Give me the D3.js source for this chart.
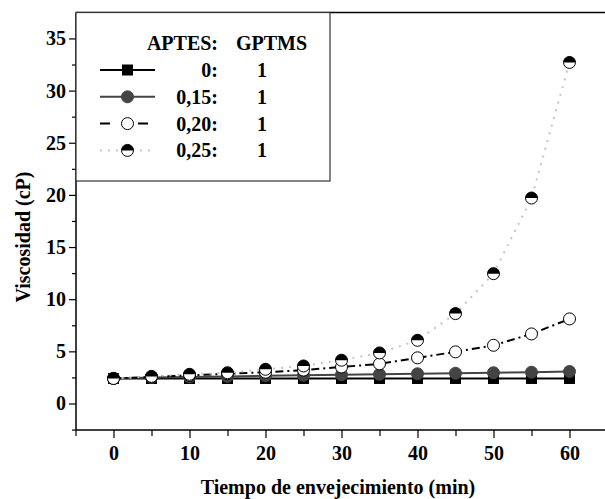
<!DOCTYPE html>
<html>
<head>
<meta charset="utf-8">
<script src="https://cdn.jsdelivr.net/npm/d3@7"></script>
<style>
  body { margin: 0; background: #fff; }
  text { font-family: "Liberation Serif", "Times New Roman", serif; font-weight: bold; }
</style>
</head>
<body>
<div id="chart"></div>
<script>
// Tiempo (min) y viscosidad (cP) para cada relación APTES:GPTMS
const tiempo = [0, 5, 10, 15, 20, 25, 30, 35, 40, 45, 50, 55, 60];
const visc000 = [2.4, 2.4, 2.4, 2.4, 2.4, 2.4, 2.4, 2.4, 2.4, 2.4, 2.4, 2.4, 2.4];
const visc015 = [2.4, 2.5, 2.55, 2.6, 2.65, 2.7, 2.75, 2.8, 2.85, 2.9, 2.95, 3.0, 3.07];
const visc020 = [2.4, 2.55, 2.7, 2.85, 3.0, 3.2, 3.5, 3.8, 4.38, 4.95, 5.58, 6.67, 8.11];
const visc025 = [2.4, 2.6, 2.8, 2.95, 3.28, 3.6, 4.15, 4.85, 6.06, 8.62, 12.45, 19.7, 32.7];
const aptes = ["0:", "0,15:", "0,20:", "0,25:"];
const gptms = ["1", "1", "1", "1"];
const yTicks = [0, 5, 10, 15, 20, 25, 30, 35];
const yMinor = [-2.5, 2.5, 7.5, 12.5, 17.5, 22.5, 27.5, 32.5];
const xTicks = [0, 10, 20, 30, 40, 50, 60];
const xMinor = [-5, 5, 15, 25, 35, 45, 55, 65];

const width = 605, height = 499;
const mLeft = 76, mTop = 12.5, mBottom = 430;

const svg = d3.select("#chart")
    .append("svg")
    .attr("width", width)
    .attr("height", height);

// 0 min -> 113.5 px, 60 min -> 569.5 px
const x = d3.scaleLinear().domain([-5, 70]).range([113.5 - 5 * 7.6, 113.5 + 70 * 7.6]);
// 0 cP -> 403.5 px, 10.43 px por unidad
const y = d3.scaleLinear().domain([0, 35]).range([403.5, 403.5 - 35 * 10.43]);

// marco superior
svg.append("line")
    .attr("x1", mLeft).attr("x2", width)
    .attr("y1", mTop).attr("y2", mTop)
    .attr("stroke", "#000").attr("stroke-width", 1.5);

// eje Y
const yAxis = svg.append("g")
    .attr("transform", `translate(${mLeft},0)`)
    .call(d3.axisLeft(y).tickValues(yTicks).tickSize(7).tickPadding(3));
svg.append("g")
    .attr("transform", `translate(${mLeft},0)`)
    .call(d3.axisLeft(y).tickValues(yMinor).tickSize(4).tickFormat(""))
    .select(".domain").remove();

// eje X
const xAxis = svg.append("g")
    .attr("transform", `translate(0,${mBottom})`)
    .call(d3.axisBottom(x).tickValues(xTicks).tickSize(8).tickPadding(8));
svg.append("g")
    .attr("transform", `translate(0,${mBottom})`)
    .call(d3.axisBottom(x).tickValues(xMinor).tickSize(6).tickFormat(""))
    .select(".domain").remove();

yAxis.select(".domain").attr("d", `M0,${mTop}V${mBottom}`).attr("stroke-width", 1.5);
xAxis.select(".domain").attr("d", `M${mLeft},0H${width}`).attr("stroke-width", 1.5);
svg.selectAll(".tick line").attr("stroke-width", 1.2);
svg.selectAll(".tick text")
    .attr("font-size", 20)
    .attr("font-family", "Liberation Serif")
    .attr("font-weight", "bold")
    .attr("fill", "#000");

// títulos de los ejes
svg.append("text")
    .attr("x", 338).attr("y", 494)
    .attr("text-anchor", "middle")
    .attr("font-size", 20)
    .text("Tiempo de envejecimiento (min)");
svg.append("text")
    .attr("transform", "translate(30,237) rotate(-90)")
    .attr("text-anchor", "middle")
    .attr("font-size", 20)
    .text("Viscosidad (cP)");

// series
const series = [
    { vals: visc000, stroke: "#000", dash: null, mark: "square" },
    { vals: visc015, stroke: "#444", dash: null, mark: "circle" },
    { vals: visc020, stroke: "#000", dash: "8,4,2,4", mark: "open" },
    { vals: visc025, stroke: "#c4c4c4", dash: "2,6", mark: "half" }
];

const line = d3.line()
    .x((d, i) => x(tiempo[i]))
    .y(d => y(d));

series.forEach(s => {
    svg.append("path")
        .datum(s.vals)
        .attr("d", line)
        .attr("fill", "none")
        .attr("stroke", s.stroke)
        .attr("stroke-width", 2)
        .attr("stroke-dasharray", s.dash);
});

const r = 6;
function drawMark(g, mark, cx, cy) {
    if (mark === "square") {
        g.append("rect")
            .attr("x", cx - 5.5).attr("y", cy - 5.5)
            .attr("width", 11).attr("height", 11)
            .attr("fill", "#000");
    } else if (mark === "circle") {
        g.append("circle")
            .attr("cx", cx).attr("cy", cy).attr("r", r)
            .attr("fill", "#444").attr("stroke", "#444");
    } else if (mark === "open") {
        g.append("circle")
            .attr("cx", cx).attr("cy", cy).attr("r", r)
            .attr("fill", "#fff").attr("stroke", "#000").attr("stroke-width", 1);
    } else {
        g.append("circle")
            .attr("cx", cx).attr("cy", cy).attr("r", r)
            .attr("fill", "#fff").attr("stroke", "#000").attr("stroke-width", 1);
        g.append("path")
            .attr("d", `M${cx - r},${cy}A${r},${r} 0 0 1 ${cx + r},${cy}Z`)
            .attr("fill", "#000");
    }
}

series.forEach(s => {
    const g = svg.append("g");
    s.vals.forEach((v, i) => drawMark(g, s.mark, x(tiempo[i]), y(v)));
});

// leyenda
svg.append("rect")
    .attr("x", mLeft).attr("y", mTop)
    .attr("width", 330 - mLeft).attr("height", 181 - mTop)
    .attr("fill", "#fff")
    .attr("stroke", "#333").attr("stroke-width", 1.2);

svg.append("text")
    .attr("x", 218).attr("y", 50)
    .attr("text-anchor", "end")
    .attr("font-size", 20)
    .text("APTES:");
svg.append("text")
    .attr("x", 236).attr("y", 50)
    .attr("font-size", 20)
    .text("GPTMS");

series.forEach((s, i) => {
    const ly = 70 + i * 26.8;
    svg.append("line")
        .attr("x1", 100).attr("x2", 155)
        .attr("y1", ly).attr("y2", ly)
        .attr("stroke", s.stroke)
        .attr("stroke-width", 2)
        .attr("stroke-dasharray", s.mark === "open" ? "10,28" : s.dash);
    drawMark(svg, s.mark, 127.5, ly);
    svg.append("text")
        .attr("x", 218).attr("y", ly + 7)
        .attr("text-anchor", "end")
        .attr("font-size", 20)
        .text(aptes[i]);
    svg.append("text")
        .attr("x", 262).attr("y", ly + 7)
        .attr("text-anchor", "middle")
        .attr("font-size", 20)
        .text(gptms[i]);
});
</script>
</body>
</html>
